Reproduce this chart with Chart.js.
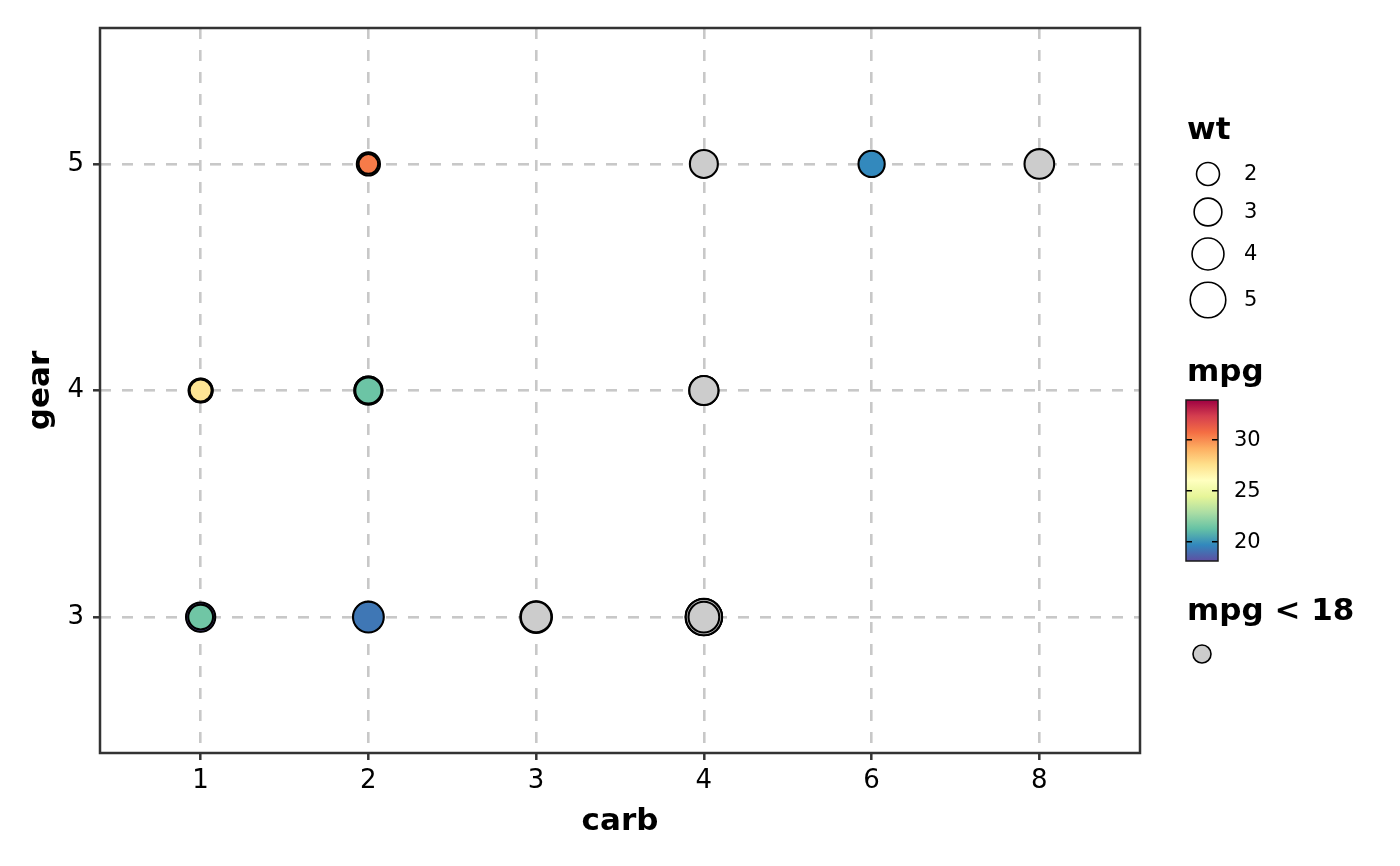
<!DOCTYPE html>
<html>
<head>
<meta charset="utf-8">
<script src="https://cdn.jsdelivr.net/npm/chart.js@4/dist/chart.umd.min.js"></script>
<style>
  body { margin: 0; background: #ffffff; }
  #wrap { width: 1400px; height: 866px; }
</style>
</head>
<body>
<div id="wrap"><canvas id="chart" width="1400" height="866"></canvas></div>
<script>
// mtcars, in data order (later rows are drawn on top)
const carb = [4, 4, 1, 1, 2, 1, 4, 2, 2, 4, 4, 3, 3, 3, 4, 4, 4, 1, 2, 1, 1, 2, 2, 4, 2, 1, 2, 2, 4, 6, 8, 2];
const gear = [4, 4, 4, 3, 3, 3, 3, 4, 4, 4, 4, 3, 3, 3, 3, 3, 3, 4, 4, 4, 3, 3, 3, 3, 3, 4, 5, 5, 5, 5, 5, 4];
const wt = [2.620, 2.875, 2.320, 3.215, 3.440, 3.460, 3.570, 3.190, 3.150, 3.440, 3.440, 4.070, 3.730, 3.780, 5.250, 5.424,
            5.345, 2.200, 1.615, 1.835, 2.465, 3.520, 3.435, 3.840, 3.845, 1.935, 2.140, 1.513, 3.170, 2.770, 3.570, 2.780];
const mpg = [21.0, 21.0, 22.8, 21.4, 18.7, 18.1, 14.3, 24.4, 22.8, 19.2, 17.8, 16.4, 17.3, 15.2, 10.4, 10.4,
             14.7, 32.4, 30.4, 33.9, 21.5, 15.5, 15.2, 13.3, 19.2, 27.3, 26.0, 30.4, 15.8, 19.7, 15.0, 21.4];

// axis categories / ticks and legend breaks
const carbLevels = [1, 2, 3, 4, 6, 8];
const gearTicks = [3, 4, 5];
const wtBreaks = [2, 3, 4, 5];
const mpgBreaks = [20, 25, 30];
const mpgCutoff = 18;

// Spectral, low -> high
const spectral = ['#5E4FA2', '#3288BD', '#66C2A5', '#ABDDA4', '#E6F598', '#FFFFBF',
                  '#FEE08B', '#FDAE61', '#F46D43', '#D53E4F', '#9E0142'];
const naColor = '#CCCCCC';

const kept = mpg.filter(v => v >= mpgCutoff);
const mpgMin = Math.min(...kept);
const mpgMax = Math.max(...kept);

function hexRgb(h) {
    return [parseInt(h.slice(1, 3), 16), parseInt(h.slice(3, 5), 16), parseInt(h.slice(5, 7), 16)];
}

function mpgColor(v) {
    if (v < mpgCutoff) return naColor;
    const t = (v - mpgMin) / (mpgMax - mpgMin) * (spectral.length - 1);
    const i = Math.min(Math.floor(t), spectral.length - 2);
    const f = t - i;
    const a = hexRgb(spectral[i]), b = hexRgb(spectral[i + 1]);
    const c = a.map((x, k) => Math.round(x + (b[k] - x) * f));
    return `rgb(${c[0]}, ${c[1]}, ${c[2]})`;
}

// point size: area grows with wt (outer diameter in px)
const strokeW = 2.1;
const keyStroke = 1.6;
function outerRadius(w) {
    return Math.sqrt(84 + 259.4 * w) / 2;
}

const points = carb.map((c, i) => ({ x: carbLevels.indexOf(c), y: gear[i] }));

// panel border + legends on the right
const extras = {
    id: 'extras',
    afterDraw(chart) {
        const ctx = chart.ctx;
        const a = chart.chartArea;
        ctx.save();

        // panel border
        ctx.strokeStyle = '#333333';
        ctx.lineWidth = 2.5;
        ctx.strokeRect(a.left, a.top, a.right - a.left, a.bottom - a.top);

        const lx = 1187;
        ctx.fillStyle = '#000000';
        ctx.textAlign = 'left';
        ctx.textBaseline = 'alphabetic';

        // wt legend
        ctx.font = 'bold 31px "DejaVu Sans"';
        ctx.fillText('wt', lx, 139);
        const wtY = [174, 212, 254, 300];
        wtBreaks.forEach((w, i) => {
            ctx.beginPath();
            ctx.arc(1208, wtY[i], outerRadius(w) - keyStroke / 2, 0, Math.PI * 2);
            ctx.fillStyle = '#ffffff';
            ctx.fill();
            ctx.lineWidth = keyStroke;
            ctx.strokeStyle = '#000000';
            ctx.stroke();
            ctx.fillStyle = '#000000';
            ctx.font = '21px "DejaVu Sans"';
            ctx.textBaseline = 'middle';
            ctx.fillText(String(w), 1244, wtY[i] + 1);
            ctx.textBaseline = 'alphabetic';
        });

        // mpg colour bar
        ctx.font = 'bold 31px "DejaVu Sans"';
        ctx.fillText('mpg', lx, 381);
        const bx = 1186, bw = 32, btop = 400, bbot = 561;
        const grad = ctx.createLinearGradient(0, bbot, 0, btop);
        spectral.forEach((col, i) => grad.addColorStop(i / (spectral.length - 1), col));
        ctx.fillStyle = grad;
        ctx.fillRect(bx, btop, bw, bbot - btop);
        const barY = v => bbot - (v - mpgMin) / (mpgMax - mpgMin) * (bbot - btop);
        ctx.strokeStyle = '#000000';
        ctx.lineWidth = 1.5;
        mpgBreaks.forEach(v => {
            const y = barY(v);
            ctx.beginPath();
            ctx.moveTo(bx, y); ctx.lineTo(bx + 6, y);
            ctx.moveTo(bx + bw - 6, y); ctx.lineTo(bx + bw, y);
            ctx.stroke();
            ctx.fillStyle = '#000000';
            ctx.font = '21px "DejaVu Sans"';
            ctx.textBaseline = 'middle';
            ctx.fillText(String(v), 1234, y + 1);
        });
        ctx.textBaseline = 'alphabetic';
        ctx.strokeStyle = '#1a1a1a';
        ctx.lineWidth = 1.5;
        ctx.strokeRect(bx, btop, bw, bbot - btop);

        // mpg < 18 key
        ctx.fillStyle = '#000000';
        ctx.font = 'bold 31px "DejaVu Sans"';
        ctx.fillText('mpg < 18', lx, 620);
        ctx.beginPath();
        ctx.arc(1202, 654, 9, 0, Math.PI * 2);
        ctx.fillStyle = naColor;
        ctx.fill();
        ctx.lineWidth = keyStroke;
        ctx.strokeStyle = '#000000';
        ctx.stroke();

        ctx.restore();
    }
};

const gridStyle = {
    color: '#c8c8c8',
    lineWidth: 2.6,
    borderDash: [11, 11],
    tickLength: 7,
    tickColor: '#333333',
    tickWidth: 2.5,
    tickBorderDash: []
};

new Chart(document.getElementById('chart'), {
    type: 'scatter',
    data: {
        datasets: [{
            data: points,
            backgroundColor: mpg.map(mpgColor),
            borderColor: '#000000',
            borderWidth: strokeW,
            pointRadius: wt.map(w => outerRadius(w) - strokeW / 2),
            pointHoverRadius: wt.map(w => outerRadius(w) - strokeW / 2)
        }]
    },
    options: {
        responsive: false,
        animation: false,
        layout: { padding: { top: 28, right: 260, left: 0, bottom: 0 } },
        plugins: {
            legend: { display: false },
            tooltip: { enabled: false }
        },
        scales: {
            x: {
                type: 'linear',
                min: -0.6,
                max: 5.6,
                afterBuildTicks: s => { s.ticks = carbLevels.map((c, i) => ({ value: i })); },
                afterFit: s => { s.height = 113; },
                grid: gridStyle,
                border: { display: false, dash: [11, 11] },
                ticks: {
                    callback: v => String(carbLevels[v]),
                    font: { family: 'DejaVu Sans', size: 26 },
                    color: '#000000',
                    padding: 6,
                    maxRotation: 0
                },
                title: {
                    display: true,
                    text: 'carb',
                    font: { family: 'DejaVu Sans', size: 31, weight: 'bold' },
                    color: '#000000',
                    padding: { top: 0, bottom: 25 }
                }
            },
            y: {
                type: 'linear',
                min: 2.4,
                max: 5.6,
                afterBuildTicks: s => { s.ticks = gearTicks.map(g => ({ value: g })); },
                afterFit: s => { s.width = 100; },
                grid: gridStyle,
                border: { display: false, dash: [11, 11] },
                ticks: {
                    font: { family: 'DejaVu Sans', size: 26 },
                    color: '#000000',
                    padding: 9
                },
                title: {
                    display: true,
                    text: 'gear',
                    font: { family: 'DejaVu Sans', size: 31, weight: 'bold' },
                    color: '#000000',
                    padding: { top: 22, bottom: 0 }
                }
            }
        }
    },
    plugins: [extras]
});
</script>
</body>
</html>
